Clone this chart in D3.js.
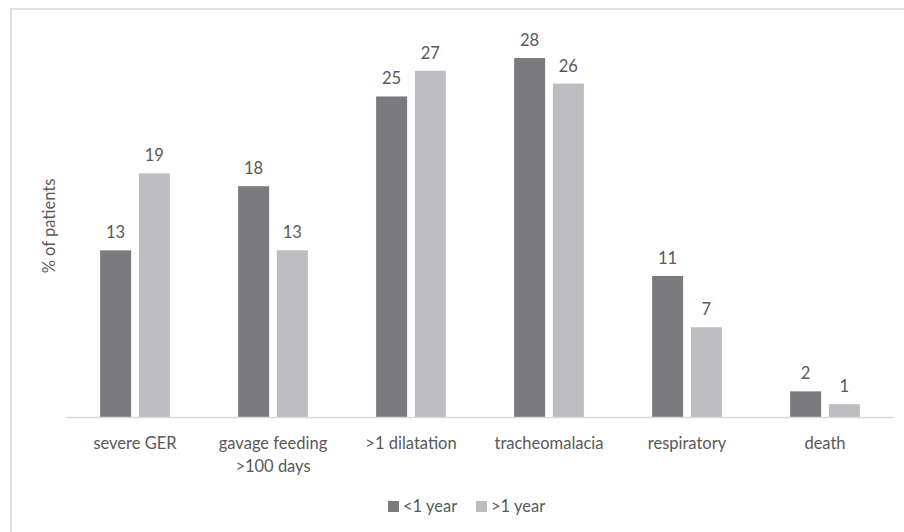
<!DOCTYPE html>
<html>
<head>
<meta charset="utf-8">
<script src="https://cdn.jsdelivr.net/npm/d3@7"></script>
<style>
  body { margin: 0; background: #fff; }
  text { font-family: Lato, "Open Sans", sans-serif; fill: #595959; }
</style>
</head>
<body>
<div id="chart"></div>
<script>
// data
var categories = ["severe GER", "gavage feeding\n>100 days", ">1 dilatation", "tracheomalacia", "respiratory", "death"];
var seriesNames = ["<1 year", ">1 year"];
var under1 = [13, 18, 25, 28, 11, 2];
var over1 = [19, 13, 27, 26, 7, 1];
var colors = ["#7b7b7f", "#bdbdc1"];

var svgWidth = 904;
var svgHeight = 532;
var fontSize = "16.5px";

var svg = d3.select("#chart")
  .append("svg")
  .attr("width", svgWidth)
  .attr("height", svgHeight);

// outer chart border (runs off the bottom/right of the picture)
svg.append("rect")
  .attr("x", 11)
  .attr("y", 9)
  .attr("width", 910)
  .attr("height", 540)
  .attr("fill", "none")
  .attr("stroke", "#e0e0e0")
  .attr("stroke-width", 2);

var xScale = d3.scaleBand()
  .domain(categories)
  .range([66, 894]);

var x1 = d3.scaleBand()
  .domain(seriesNames)
  .range([0, xScale.bandwidth()])
  .paddingInner(0.2)
  .paddingOuter(0.88);

var yScale = d3.scaleLinear()
  .domain([0, 28])
  .range([417, 58]);

var rows = categories.map(function(c, i) {
  return { cat: c, vals: [under1[i], over1[i]] };
});

var groups = svg.selectAll(".grp")
  .data(rows)
  .enter()
  .append("g")
  .attr("transform", d => `translate(${xScale(d.cat)},0)`);

groups.selectAll("rect")
  .data(d => d.vals.map((v, j) => ({ name: seriesNames[j], v: v, j: j })))
  .enter()
  .append("rect")
  .attr("x", d => x1(d.name))
  .attr("y", d => yScale(d.v))
  .attr("width", x1.bandwidth())
  .attr("height", d => yScale(0) - yScale(d.v))
  .attr("fill", d => colors[d.j]);

groups.selectAll(".val")
  .data(d => d.vals.map((v, j) => ({ name: seriesNames[j], v: v })))
  .enter()
  .append("text")
  .attr("x", d => x1(d.name) + x1.bandwidth() / 2)
  .attr("y", d => yScale(d.v) - 12)
  .attr("text-anchor", "middle")
  .attr("font-size", fontSize)
  .text(d => d.v);

// baseline
svg.append("line")
  .attr("x1", 66)
  .attr("x2", 894)
  .attr("y1", yScale(0) + 0.5)
  .attr("y2", yScale(0) + 0.5)
  .attr("stroke", "#d9d9d9")
  .attr("stroke-width", 1.5);

// category labels
groups.append("text")
  .attr("x", xScale.bandwidth() / 2)
  .attr("y", 449)
  .attr("text-anchor", "middle")
  .attr("font-size", fontSize)
  .selectAll("tspan")
  .data(d => d.cat.split("\n"))
  .enter()
  .append("tspan")
  .attr("x", xScale.bandwidth() / 2)
  .attr("dy", (d, i) => i === 0 ? 0 : 23)
  .text(d => d);

// y axis title
svg.append("text")
  .attr("transform", "translate(55,226) rotate(-90)")
  .attr("text-anchor", "middle")
  .attr("font-size", fontSize)
  .text("% of patients");

// legend
var legendX = [388, 476];
var legend = svg.selectAll(".leg")
  .data(seriesNames)
  .enter()
  .append("g")
  .attr("transform", (d, i) => `translate(${legendX[i]},501)`);

legend.append("rect")
  .attr("width", 11)
  .attr("height", 11)
  .attr("fill", (d, i) => colors[i]);

legend.append("text")
  .attr("x", 15)
  .attr("y", 11)
  .attr("font-size", fontSize)
  .text(d => d);
</script>
</body>
</html>
